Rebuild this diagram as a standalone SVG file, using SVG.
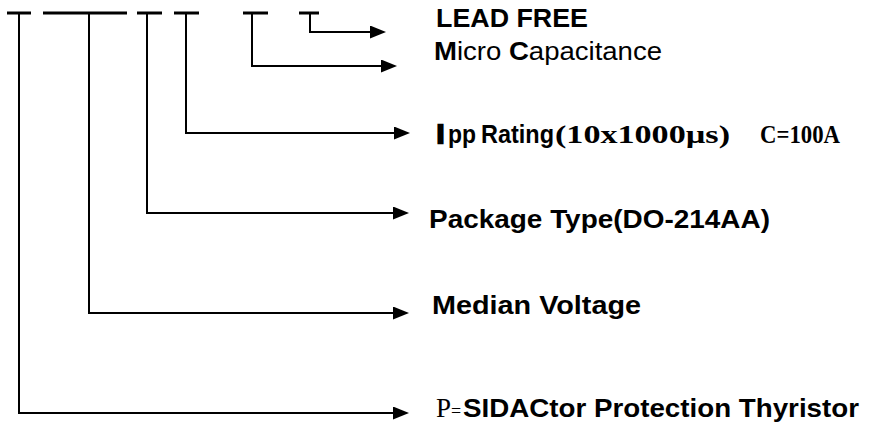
<svg xmlns="http://www.w3.org/2000/svg" width="870" height="433" viewBox="0 0 870 433">
<style>
.bar{stroke:#000;stroke-width:3;fill:none}
.con{stroke:#000;stroke-width:2;fill:none;marker-end:url(#ah)}
.sb{font-family:"Liberation Sans",Arial,sans-serif;font-weight:bold;font-size:25px;fill:#000}
.sr{font-family:"Liberation Sans",Arial,sans-serif;font-weight:normal;font-size:25px;fill:#000}
.tb{font-family:"Liberation Serif","Times New Roman",serif;font-weight:bold;font-size:25px;fill:#000}
.tr{font-family:"Liberation Serif","Times New Roman",serif;font-weight:normal;fill:#000}
</style>
<defs>
<marker id="ah" markerUnits="userSpaceOnUse" markerWidth="16" markerHeight="13" refX="6" refY="6.5" orient="auto">
<path d="M0,0 L16,6.5 L0,13 Z" fill="#000"/>
</marker>
</defs>
<rect width="870" height="433" fill="#fff"/>
<g id="code-bars">
<line class="bar" x1="7" y1="13" x2="31" y2="13"/>
<line class="bar" x1="43" y1="13" x2="127" y2="13"/>
<line class="bar" x1="137" y1="13" x2="162" y2="13"/>
<line class="bar" x1="174" y1="13" x2="199" y2="13"/>
<line class="bar" x1="243" y1="13" x2="268" y2="13"/>
<line class="bar" x1="299" y1="13" x2="319" y2="13"/>
</g>
<g id="connectors">
<path class="con" d="M19,13 V413 H399"/>
<path class="con" d="M89,13 V313 H399"/>
<path class="con" d="M147,13 V213 H399"/>
<path class="con" d="M186,13 V133 H400"/>
<path class="con" d="M252,13 V66 H387"/>
<path class="con" d="M310,13 V32 H376"/>
</g>
<g id="lead-free"><text class="sb" x="436" y="27" textLength="152" lengthAdjust="spacingAndGlyphs">LEAD FREE</text></g>
<g id="micro-cap"><text class="sr" x="434" y="60" textLength="228" lengthAdjust="spacingAndGlyphs"><tspan font-weight="bold">M</tspan>icro <tspan font-weight="bold">C</tspan>apacitance</text></g>
<g id="ipp-rating">
<text class="sb" x="437" y="143" font-size="28" stroke="#000" stroke-width="2.5">I</text>
<text class="sb" x="448" y="143" font-size="19" textLength="28" lengthAdjust="spacingAndGlyphs">pp</text>
<text class="sb" x="481" y="143" font-size="25" textLength="73" lengthAdjust="spacingAndGlyphs">Rating</text>
<text class="tb" x="555" y="143" font-size="28" textLength="175" lengthAdjust="spacingAndGlyphs">(10x1000µs)</text>
<text class="tb" x="760" y="143" font-size="25" textLength="80" lengthAdjust="spacingAndGlyphs">C=100A</text>
</g>
<g id="package-type"><text class="sb" x="429" y="228" textLength="341" lengthAdjust="spacingAndGlyphs">Package Type(DO-214AA)</text></g>
<g id="median-voltage"><text class="sb" x="432" y="314" textLength="209" lengthAdjust="spacingAndGlyphs">Median Voltage</text></g>
<g id="protection-thyristor">
<text class="tr" x="436" y="417" font-size="27">P<tspan font-size="18">=</tspan></text>
<text class="sb" x="463" y="417" font-size="22" textLength="396" lengthAdjust="spacingAndGlyphs">SIDACtor Protection Thyristor</text>
</g>
</svg>
